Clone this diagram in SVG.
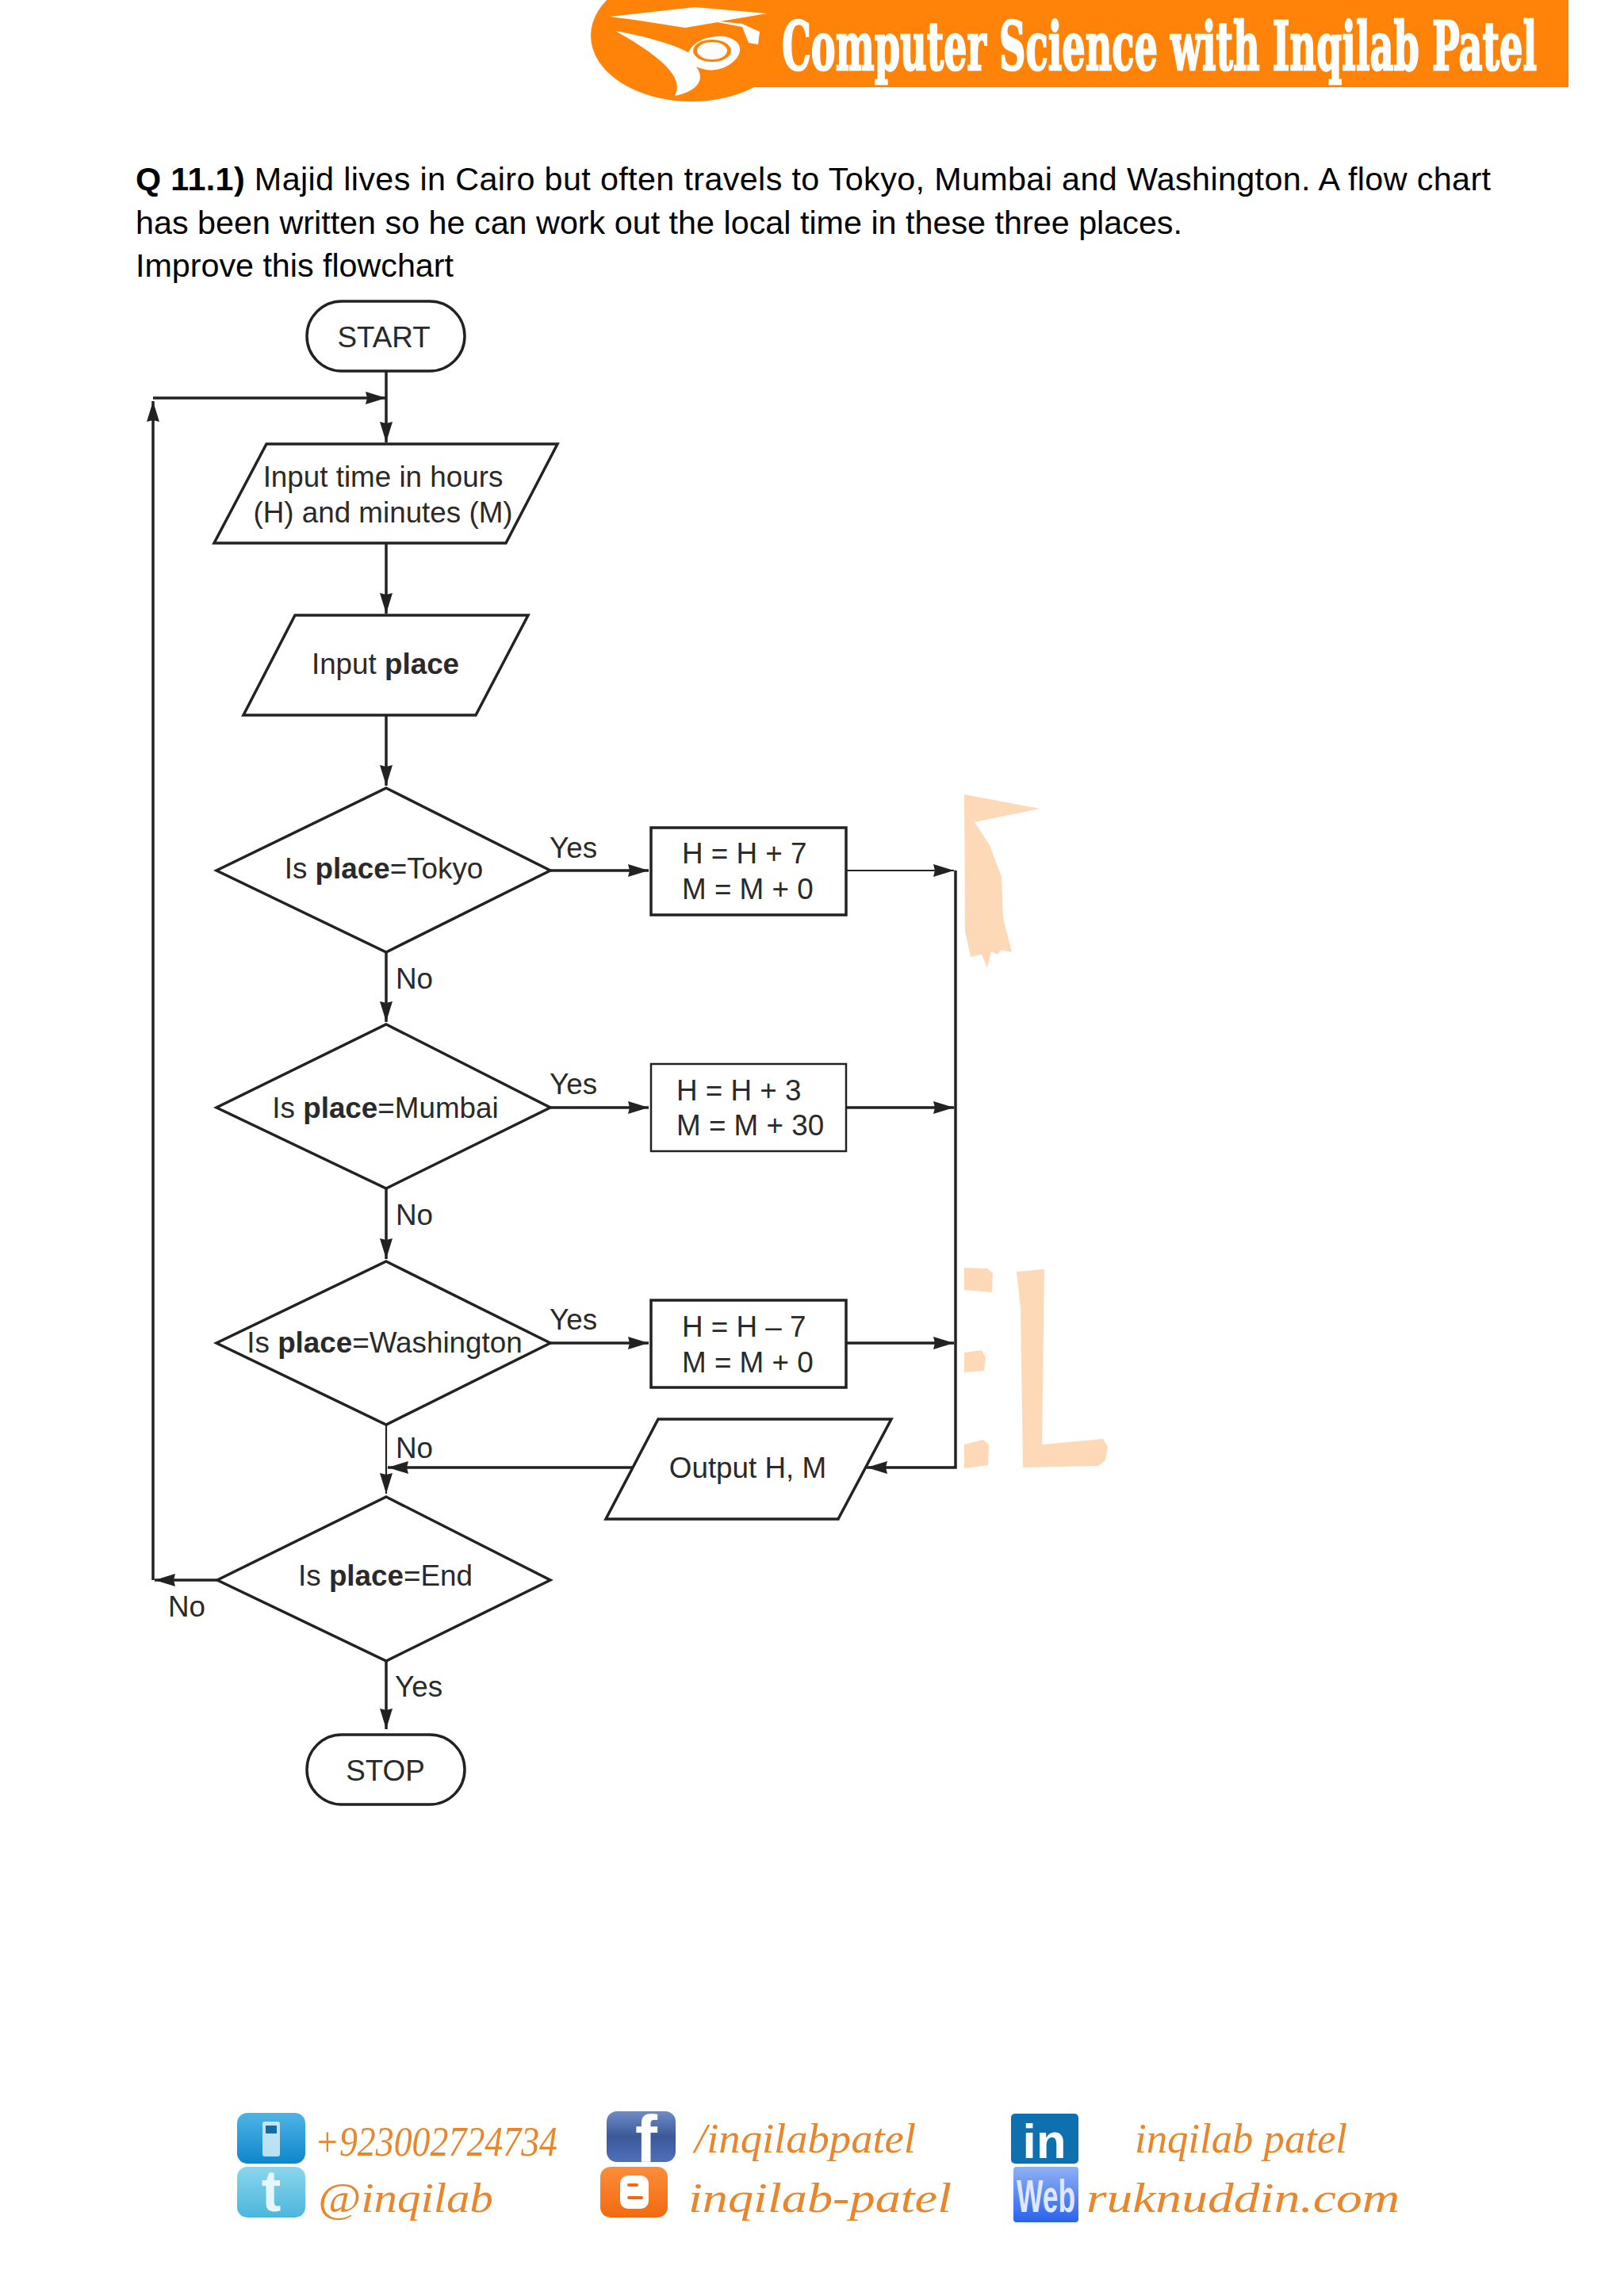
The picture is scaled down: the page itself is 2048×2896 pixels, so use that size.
<svg xmlns="http://www.w3.org/2000/svg" width="2048" height="2896" viewBox="0 0 2048 2896">
<defs>
<marker id="arr" viewBox="0 0 26 16" refX="26" refY="8" markerWidth="26" markerHeight="16" markerUnits="userSpaceOnUse" orient="auto"><path d="M0 0L26 8L0 16L2 8z" fill="#222"/></marker>
<linearGradient id="gPhone" x1="0" y1="0" x2="0" y2="1"><stop offset="0" stop-color="#4fb4e4"/><stop offset="1" stop-color="#0f86cc"/></linearGradient>
<linearGradient id="gTw" x1="0" y1="0" x2="0" y2="1"><stop offset="0" stop-color="#8ad6ec"/><stop offset="1" stop-color="#4bb6dc"/></linearGradient>
<linearGradient id="gFb" x1="0" y1="0" x2="0" y2="1"><stop offset="0" stop-color="#6f8cc8"/><stop offset="0.5" stop-color="#3b5998"/><stop offset="1" stop-color="#4f6fbb"/></linearGradient>
<linearGradient id="gBl" x1="0" y1="0" x2="0" y2="1"><stop offset="0" stop-color="#fb8d3a"/><stop offset="1" stop-color="#f26a0f"/></linearGradient>
<linearGradient id="gWeb" x1="0" y1="0" x2="0" y2="1"><stop offset="0" stop-color="#8fb0f5"/><stop offset="1" stop-color="#2a62ee"/></linearGradient>
</defs>
<style>
text{font-family:"Liberation Sans",Arial,sans-serif;}
.s{fill:#fff;stroke:#222;stroke-width:3.5;}
.t{font-size:36.8px;fill:#2a2a2a;}
.m{text-anchor:middle;}
.b{font-weight:bold;}
.c{fill:none;stroke:#222;stroke-width:3.5;}
.thin{stroke-width:2.2;}
.p{font-size:41.3px;fill:#000;}
.wm{fill:#fdd9b7;}
.ft{font-family:"Liberation Serif",serif;font-style:italic;font-size:52px;fill:#e9852a;}
.logo{fill:#fff;}
</style>
<rect width="2048" height="2896" fill="#fff"/>

<g id="banner">
<rect x="860" y="0" width="1118" height="110" fill="#ff8308"/>
<ellipse cx="872" cy="45" rx="127" ry="83" fill="#ff8308"/>
<path class="logo" d="M769 21L876 9L967 17L908 27L936 30L958 40L956 56L944 54L936 34L905 28L864 35L800 25z"/>
<path class="logo" d="M776 39C815 46 850 56 868 66C876 50 895 44 915 46C930 50 936 58 932 68C925 84 900 95 878 84C890 100 880 115 851 121C862 100 842 76 776 39z"/>
<ellipse cx="898" cy="64" rx="24" ry="14" fill="#ff8308"/>
<ellipse cx="898" cy="64" rx="19" ry="11" class="logo"/>
<text x="986" y="88" font-size="84" font-weight="bold" fill="#fff" stroke="#fff" stroke-width="2.5" textLength="952" lengthAdjust="spacingAndGlyphs" style="font-family:'DejaVu Serif',serif">Computer Science with Inqilab Patel</text>
</g>

<g id="watermark">
<path class="wm" d="M1216 1002L1311 1020L1229 1037L1248 1066L1263 1106L1265 1158L1276 1201L1262 1198L1258 1204L1250 1200L1245 1221L1238 1204L1224 1207L1217 1175z"/>
<path class="wm" d="M1216 1599L1245 1600L1252 1606L1251 1630L1216 1627z"/>
<path class="wm" d="M1216 1706L1238 1703L1243 1712L1241 1729L1216 1731z"/>
<path class="wm" d="M1216 1822L1240 1816L1247 1822L1246 1848L1216 1852z"/>
<path class="wm" d="M1282 1604L1317 1601L1314 1822L1391 1815L1397 1825L1394 1842L1385 1849L1290 1851L1287 1650z"/>
</g>

<g id="question">
<text class="p" x="171" y="240" textLength="1709"><tspan class="b">Q 11.1)</tspan> Majid lives in Cairo but often travels to Tokyo, Mumbai and Washington. A flow chart</text>
<text class="p" x="171" y="295" textLength="1320">has been written so he can work out the local time in these three places.</text>
<text class="p" x="171" y="349" textLength="401">Improve this flowchart</text>
</g>

<g id="connectors">
<path class="c" d="M487 468V558" marker-end="url(#arr)"/>
<path class="c" d="M193 502H487" marker-end="url(#arr)"/>
<path class="c" d="M487 685V774" marker-end="url(#arr)"/>
<path class="c" d="M487 903V991" marker-end="url(#arr)"/>
<path class="c" d="M487 1201V1289" marker-end="url(#arr)"/>
<path class="c" d="M487 1498V1588" marker-end="url(#arr)"/>
<path class="c thin" d="M487 1795V1884" marker-end="url(#arr)"/>
<path class="c" d="M487 2093V2181" marker-end="url(#arr)"/>
<path class="c" d="M693 1098H818" marker-end="url(#arr)"/>
<path class="c" d="M693 1397H818" marker-end="url(#arr)"/>
<path class="c" d="M693 1694H818" marker-end="url(#arr)"/>
<path class="c thin" d="M1068 1098H1203" marker-end="url(#arr)"/>
<path class="c" d="M1066 1397H1203" marker-end="url(#arr)"/>
<path class="c" d="M1066 1694H1203" marker-end="url(#arr)"/>
<path class="c" d="M1205 1098V1851H1093" marker-end="url(#arr)"/>
<path class="c" d="M797 1851H489" marker-end="url(#arr)"/>
<path class="c" d="M274 1993H195" marker-end="url(#arr)"/>
<path class="c" d="M193 1993V506" marker-end="url(#arr)"/>
</g>

<g id="labels">
<text class="t" x="693" y="1082">Yes</text>
<text class="t" x="693" y="1380">Yes</text>
<text class="t" x="693" y="1677">Yes</text>
<text class="t" x="499" y="1247">No</text>
<text class="t" x="499" y="1545">No</text>
<text class="t" x="499" y="1839">No</text>
<text class="t" x="212" y="2039">No</text>
<text class="t" x="498" y="2140">Yes</text>
</g>

<g id="start"><rect class="s" x="387" y="380" width="199" height="88" rx="44" ry="44"/><text class="t m" x="484" y="438">START</text></g>
<g id="input-time"><path class="s" d="M336 560H703L638 685H270z"/><text class="t m" x="483" y="614">Input time in hours</text><text class="t m" x="483" y="659">(H) and minutes (M)</text></g>
<g id="input-place"><path class="s" d="M372 776H666L600 902H307z"/><text class="t m" x="486" y="850">Input <tspan class="b">place</tspan></text></g>
<g id="d-tokyo"><path class="s" d="M487 994L694 1098L487 1201L273 1098z"/><text class="t m" x="484" y="1108">Is <tspan class="b">place</tspan>=Tokyo</text></g>
<g id="box-tokyo"><rect class="s" x="821" y="1044" width="246" height="110"/><text class="t" x="860" y="1089">H = H + 7</text><text class="t" x="860" y="1134">M = M + 0</text></g>
<g id="d-mumbai"><path class="s" d="M487 1292L694 1397L487 1499L273 1397z"/><text class="t m" x="486" y="1410">Is <tspan class="b">place</tspan>=Mumbai</text></g>
<g id="box-mumbai"><rect class="s" style="stroke-width:2.5" x="821" y="1342" width="246" height="110"/><text class="t" x="853" y="1388">H = H + 3</text><text class="t" x="853" y="1432">M = M + 30</text></g>
<g id="d-washington"><path class="s" d="M487 1591L694 1694L487 1797L273 1694z"/><text class="t m" x="485" y="1706">Is <tspan class="b">place</tspan>=Washington</text></g>
<g id="box-washington"><rect class="s" x="821" y="1640" width="246" height="110"/><text class="t" x="860" y="1686">H = H – 7</text><text class="t" x="860" y="1731">M = M + 0</text></g>
<g id="output"><path class="s" d="M830 1790H1124L1057 1916H764z"/><text class="t m" x="943" y="1864">Output H, M</text></g>
<g id="d-end"><path class="s" d="M487 1888L694 1993L487 2095L274 1993z"/><text class="t m" x="486" y="2000">Is <tspan class="b">place</tspan>=End</text></g>
<g id="stop"><rect class="s" x="387" y="2188" width="199" height="88" rx="44" ry="44"/><text class="t m" x="486" y="2246">STOP</text></g>

<g id="footer">
<g id="phone"><rect x="299" y="2665" width="86" height="64" rx="13" fill="url(#gPhone)"/><rect x="331" y="2676" width="22" height="44" rx="3" fill="#d6eef9" opacity=".85"/><rect x="335" y="2681" width="14" height="10" fill="#0f6ea8"/></g>
<text class="ft" x="397" y="2719" textLength="306" lengthAdjust="spacingAndGlyphs">+923002724734</text>
<g id="twitter"><rect x="299" y="2733" width="86" height="64" rx="13" fill="url(#gTw)"/><text x="342" y="2789" font-size="74" font-weight="bold" fill="#e6f6fb" text-anchor="middle">t</text></g>
<text class="ft" x="401" y="2790" textLength="221" lengthAdjust="spacingAndGlyphs">@inqilab</text>
<g id="facebook"><rect x="765" y="2663" width="87" height="64" rx="13" fill="url(#gFb)"/><text x="815" y="2727" font-size="84" font-weight="bold" fill="#fff" text-anchor="middle">f</text></g>
<text class="ft" x="876" y="2715" textLength="279" lengthAdjust="spacingAndGlyphs">/inqilabpatel</text>
<g id="blogger"><rect x="757" y="2733" width="85" height="64" rx="13" fill="url(#gBl)"/><rect x="782" y="2744" width="36" height="42" rx="10" fill="#fff"/><rect x="791" y="2754" width="14" height="4" rx="2" fill="#f26a0f"/><rect x="791" y="2770" width="20" height="4" rx="2" fill="#f26a0f"/></g>
<text class="ft" x="868" y="2790" textLength="332" lengthAdjust="spacingAndGlyphs">inqilab-patel</text>
<g id="linkedin"><rect x="1275" y="2666" width="85" height="63" rx="5" fill="#0f70b0"/><text x="1317" y="2722" font-size="62" font-weight="bold" fill="#fff" text-anchor="middle">in</text></g>
<text class="ft" x="1431" y="2715" textLength="268" lengthAdjust="spacingAndGlyphs">inqilab patel</text>
<g id="web"><rect x="1278" y="2733" width="82" height="70" rx="4" fill="url(#gWeb)"/><text x="1319" y="2790" font-size="58" font-weight="bold" fill="#dfe8ff" text-anchor="middle" textLength="74" lengthAdjust="spacingAndGlyphs">Web</text></g>
<text class="ft" x="1370" y="2790" textLength="395" lengthAdjust="spacingAndGlyphs">ruknuddin.com</text>
</g>
</svg>
